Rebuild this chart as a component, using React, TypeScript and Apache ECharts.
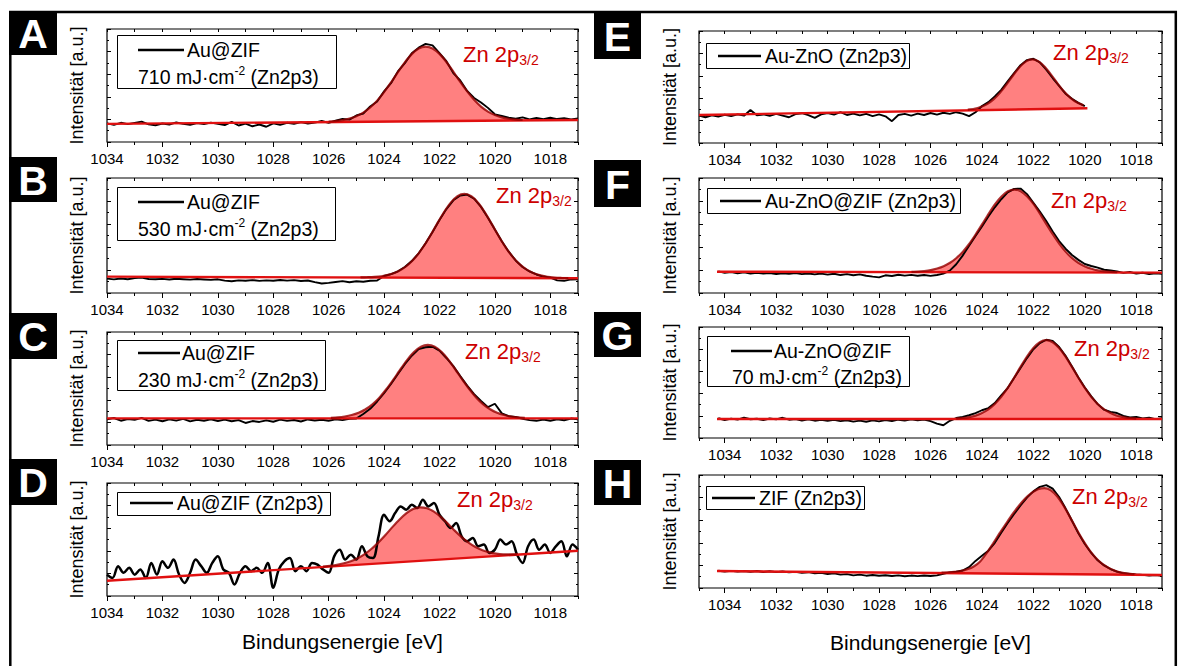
import React, { useEffect, useRef } from "react";
import * as echarts from "echarts";

const FONT = "'Liberation Sans', Arial, Helvetica, sans-serif";

// ---- axis ticks / labels ----
const MAJOR_TICKS = [1034, 1032, 1030, 1028, 1026, 1024, 1022, 1020, 1018];
const MINOR_TICKS_L = [1033, 1031, 1029, 1027, 1025, 1023, 1021, 1019, 1017];
const MINOR_TICKS_R = [1035, 1033, 1031, 1029, 1027, 1025, 1023, 1021, 1019, 1017];
const ALL_TICKS_L = [1034, 1033, 1032, 1031, 1030, 1029, 1028, 1027, 1026, 1025, 1024, 1023, 1022, 1021, 1020, 1019, 1018, 1017];
const ALL_TICKS_R = [1035, ...ALL_TICKS_L];

// ---- Panel A: Au@ZIF 710 mJ/cm2 ----
const A_START = 1034, A_STEP = 0.25;
const A_DATA = [16.5, 15.2, 17.0, 15.8, 16.9, 18.0, 15.6, 14.8, 16.4, 15.5,
  17.3, 16.0, 15.2, 16.8, 15.9, 17.1, 16.0, 15.0, 17.8, 14.6,
  16.2, 13.9, 15.5, 13.5, 16.5, 15.1, 17.0, 16.0, 17.6, 16.3,
  17.2, 18.6, 16.9, 18.8, 20.5, 19.8, 23.5, 25.2, 31.5, 35.8,
  44.8, 52.0, 62.5, 69.8, 78.5, 83.5, 86.8, 85.5, 78.6, 71.5,
  61.0, 54.5, 45.2, 39.0, 35.0, 30.2, 24.5, 23.0, 21.5, 20.6,
  21.8, 20.0, 21.2, 20.1, 21.5, 20.3, 21.0, 20.0, 20.8];
const A_FIT_START = 1026.0;
const A_FIT = [0.4, 0.8, 1.6, 2.9, 5.0, 8.1, 12.6, 18.6, 26.1, 34.6, 43.7, 52.3, 59.5, 64.4, 66, 64.4, 59.5, 52.3, 43.7, 34.6, 26.1, 18.6, 12.6, 8.1, 5.0, 2.9, 1.6, 0.8, 0.4];
const A_BASE = [[1034, 16], [1017, 19.5]];

// ---- Panel B: Au@ZIF 530 mJ/cm2 ----
const B_START = 1034, B_STEP = 0.25;
const B_DATA = [12.5, 11.8, 12.6, 12.0, 12.9, 13.4, 12.2, 11.9, 12.3, 11.7,
  12.4, 12.0, 11.6, 12.2, 11.8, 11.4, 11.9, 10.8, 10.2, 11.0,
  10.6, 11.2, 10.5, 11.0, 10.7, 11.3, 10.8, 11.2, 10.4, 10.9,
  9.5, 8.3, 8.8, 9.6, 10.3, 9.4, 10.2, 9.8, 10.6, 10.9,
  14.8, 16.4, 18.9, 22.6, 27.8, 34.5, 43.3, 53.0, 63.5, 73.0,
  80.6, 84.8, 85.6, 82.0, 74.9, 65.5, 55.2, 45.0, 35.9, 28.3,
  22.6, 18.7, 16.1, 14.3, 13.4, 11.0, 10.6, 11.8, 12.0];
const B_FIT_START = 1024.85;
const B_FIT = [0.1, 0.3, 0.6, 1.2, 2.4, 4.3, 7.4, 11.9, 18.2, 26.3, 35.9, 46.4, 56.6, 65.2, 71.0, 73.0, 71.0, 65.2, 56.6, 46.4, 35.9, 26.3, 18.2, 11.9, 7.4, 4.3, 2.4, 1.2, 0.6, 0.3, 0.1];
const B_BASE = [[1034, 14.2], [1017, 12.8]];

// ---- Panel C: Au@ZIF 230 mJ/cm2 ----
const C_START = 1034, C_STEP = 0.25;
const C_DATA = [22.8, 23.9, 21.5, 23.0, 22.2, 24.0, 21.3, 22.4, 21.0, 22.7,
  21.6, 23.1, 20.9, 22.3, 21.5, 22.8, 21.2, 22.5, 21.0, 22.0,
  19.5, 21.2, 20.4, 21.8, 20.6, 22.4, 21.3, 22.1, 20.8, 22.6,
  21.7, 22.3, 21.5, 22.7, 22.0, 23.2, 23.4, 27.5, 32.0, 38.5,
  45.8, 54.0, 62.8, 71.5, 79.0, 84.8, 86.5, 87.0, 83.5, 77.0,
  69.8, 61.0, 52.5, 45.0, 39.0, 33.5, 36.5, 28.0, 25.5, 24.8,
  23.2, 22.0, 21.4, 22.6, 21.5, 22.8, 21.9, 23.4, 22.7];
const C_FIT_START = 1025.92;
const C_FIT = [0.4, 0.8, 1.6, 2.9, 4.9, 8.0, 12.4, 18.3, 25.7, 34.1, 43.0, 51.5, 58.6, 63.4, 65, 63.4, 58.6, 51.5, 43.0, 34.1, 25.7, 18.3, 12.4, 8.0, 4.9, 2.9, 1.6, 0.8, 0.4];
const C_BASE = [[1034, 23.6], [1017, 23.6]];

// ---- Panel D: Au@ZIF ----
const D_START = 1034, D_STEP = 0.2;
const D_DATA = [18.9, 16.0, 26.4, 20.5, 24.9, 18.9, 23.4, 16.0, 29.2, 19.0,
  30.7, 24.9, 32.2, 19.0, 11.6, 20.5, 32.2, 26.4, 20.5, 29.3,
  35.1, 23.4, 20.5, 10.1, 20.5, 26.4, 22.0, 24.9, 20.5, 29.3,
  7.2, 23.4, 30.7, 33.6, 22.0, 26.4, 22.0, 29.3, 27.8, 23.4,
  20.5, 35.1, 41.0, 32.2, 36.6, 32.2, 44.0, 35.1, 33.6, 52.8,
  71.9, 66.1, 73.4, 79.3, 76.4, 80.8, 77.9, 85.2, 79.3, 82.3,
  71.9, 66.1, 60.2, 64.6, 52.8, 48.4, 51.3, 44.0, 45.5, 38.1,
  41.0, 49.9, 45.5, 48.4, 36.6, 29.3, 44.0, 49.9, 41.0, 45.5,
  38.1, 44.0, 48.4, 35.1, 45.5, 41.0];
const D_FIT_START = 1026.2;
const D_FIT = [0.3, 0.6, 1.1, 2.1, 3.6, 5.8, 9.1, 13.4, 18.7, 24.8, 31.4, 37.6, 42.8, 46.2, 47.4, 46.2, 42.8, 37.6, 31.4, 24.8, 18.7, 13.4, 9.1, 5.8, 3.6, 2.1, 1.1, 0.6, 0.3];
const D_BASE = [[1034, 13.5], [1017, 40]];

// ---- Panel E: Au-ZnO ----
const E_START = 1035, E_STEP = 0.25;
const E_DATA = [24.5, 23.0, 24.8, 23.6, 25.2, 24.0, 25.6, 24.4, 29.5, 24.8,
  25.5, 24.2, 26.0, 24.5, 23.0, 25.8, 26.6, 24.9, 22.5, 25.6,
  26.8, 25.3, 27.5, 25.0, 26.2, 24.6, 26.0, 24.0, 25.5, 23.8,
  19.5, 25.0, 26.0, 24.5, 26.2, 25.0, 26.8, 25.4, 27.0, 26.0,
  27.5, 26.2, 24.0, 27.5, 33.0, 36.5, 41.5, 47.5, 55.0, 62.5,
  69.5, 74.0, 75.2, 72.0, 65.5, 58.0, 51.0, 44.0, 39.5, 35.8,
  33.0];
const E_FIT_START = 1024.55;
const E_FIT = [0.6, 1.3, 2.8, 5.3, 9.4, 15.1, 22.3, 30.2, 37.4, 42.6, 44.5, 42.6, 37.4, 30.2, 22.3, 15.1, 9.4, 5.3, 2.8];
const E_BASE = [[1035, 25], [1019.9, 31]];

// ---- Panel F: Au-ZnO@ZIF ----
const F_START = 1034.25, F_STEP = 0.25;
const F_DATA = [18.8, 17.5, 18.3, 17.2, 17.9, 16.8, 17.6, 16.9, 17.4, 16.5,
  17.2, 16.6, 17.3, 16.4, 17.0, 16.2, 16.9, 16.0, 16.7, 15.6,
  16.4, 15.4, 16.2, 15.0, 14.2, 13.6, 15.4, 14.8, 15.9, 15.1,
  15.8, 15.0, 15.6, 14.9, 15.7, 16.8, 19.5, 25.0, 32.5, 41.0,
  49.5, 57.8, 66.5, 74.5, 81.5, 87.5, 90.5, 90.8, 86.0, 78.5,
  70.8, 62.5, 53.5, 45.2, 38.5, 33.0, 28.8, 25.2, 23.5, 22.0,
  20.2, 19.6, 18.7, 17.5, 18.3, 16.9, 17.6, 16.4, 17.2, 16.6];
const F_FIT_START = 1026.74;
const F_FIT = [0.3, 0.5, 1.0, 1.8, 3.2, 5.2, 8.2, 12.4, 17.9, 24.8, 33.0, 41.8, 50.9, 59.3, 66.0, 70.5, 72, 70.5, 66.0, 59.3, 50.9, 41.8, 33.0, 24.8, 17.9, 12.4, 8.2, 5.2, 3.2, 1.8, 1.0, 0.5, 0.3];
const F_BASE = [[1034.3, 18.5], [1017, 17.7]];

// ---- Panel G: Au-ZnO@ZIF 70 mJ/cm2 ----
const G_START = 1034.25, G_STEP = 0.25;
const G_DATA = [17.8, 16.2, 17.5, 16.6, 18.4, 16.9, 17.3, 16.1, 17.6, 16.8,
  18.2, 16.5, 17.0, 15.8, 16.9, 15.6, 16.4, 15.5, 16.3, 15.2,
  16.0, 14.8, 15.7, 14.6, 15.9, 15.0, 16.2, 15.3, 16.5, 15.7,
  16.8, 16.0, 16.6, 15.2, 13.0, 11.5, 15.5, 18.0, 19.0, 20.5,
  22.5, 25.0, 27.0, 31.5, 38.5, 45.0, 54.0, 63.0, 72.0, 80.0,
  85.5, 88.5, 87.5, 82.0, 74.0, 64.5, 54.5, 45.5, 37.5, 30.5,
  25.5, 23.5, 22.5, 20.0, 18.5, 19.0, 17.6, 18.2, 17.0, 17.9];
const G_FIT_START = 1025.0;
const G_FIT = [0.4, 0.9, 1.7, 3.1, 5.4, 8.7, 13.6, 20.0, 28.0, 37.2, 47.0, 56.3, 64.0, 69.2, 71, 69.2, 64.0, 56.3, 47.0, 37.2, 28.0, 20.0, 13.6, 8.7, 5.4, 3.1, 1.7, 0.9, 0.4];
const G_BASE = [[1034.3, 17.1], [1017, 17.1]];

// ---- Panel H: ZIF ----
const H_START = 1034.25, H_STEP = 0.25;
const H_DATA = [15.3, 14.6, 15.2, 14.5, 15.0, 14.4, 15.1, 14.2, 14.8, 14.0,
  14.6, 13.8, 14.3, 13.5, 14.0, 12.9, 13.4, 12.4, 12.9, 11.8,
  12.3, 11.2, 11.8, 10.9, 11.5, 10.8, 11.3, 10.6, 11.2, 10.4,
  11.0, 10.5, 11.1, 10.6, 11.2, 12.6, 13.8, 14.5, 15.5, 18.5,
  24.0, 28.5, 33.0, 40.0, 49.0, 57.5, 65.5, 73.0, 80.0, 85.5,
  89.5, 91.0, 88.0, 80.5, 70.5, 59.5, 48.5, 39.0, 31.0, 24.5,
  20.0, 16.8, 14.5, 13.0, 12.5, 12.0, 11.6, 11.0, 11.4, 10.8];
const H_FIT_START = 1025.57;
const H_FIT = [0.4, 0.7, 1.2, 2.0, 3.5, 6.0, 10.5, 18.0, 26.5, 35.5, 44.0, 52.4, 59.9, 66.5, 71.6, 74.9, 76.0, 74.1, 68.6, 60.3, 50.3, 39.8, 30.0, 21.4, 14.5, 9.3, 5.8, 3.3, 1.8, 1.0, 0.5];
const H_BASE = [[1034.3, 15], [1017, 11.5]];

// ---- texts ----
const PANEL_LETTERS = ["A", "B", "C", "D", "E", "F", "G", "H"];
const LEGEND_NAMES = ["Au@ZIF", "Au@ZIF", "Au@ZIF", "Au@ZIF (Zn2p3)", "Au-ZnO (Zn2p3)", "Au-ZnO@ZIF (Zn2p3)", "Au-ZnO@ZIF", "ZIF (Zn2p3)"];
const LEGEND_FLUENCE = ["710", "530", "230", "", "", "", "70", ""];
const X_TITLE = "Bindungsenergie [eV]";
const Y_TITLE = "Intensität [a.u.]";

// ---- layout (positions/sizes only) ----
const COLS = {
  L: { x: 107, w: 471, min: 1017, max: 1034, minor: MINOR_TICKS_L, all: ALL_TICKS_L, yTitleX: 77 },
  R: { x: 699, w: 463, min: 1017, max: 1035, minor: MINOR_TICKS_R, all: ALL_TICKS_R, yTitleX: 670 },
};

const PANELS = [
  { col: "L", top: 29, h: 113, start: A_START, step: A_STEP, data: A_DATA, fitStart: A_FIT_START, fit: A_FIT, base: A_BASE, lw: 1.9, smooth: false,
    box: [9, 11, 48, 44], legend: [117, 35, 219, 53], line: [138, 184, 50], t1: [187, 50], t2: [138, 77], zn: [463, 54] },
  { col: "L", top: 178, h: 115, start: B_START, step: B_STEP, data: B_DATA, fitStart: B_FIT_START, fit: B_FIT, base: B_BASE, lw: 1.9, smooth: false,
    box: [9, 157, 48, 45], legend: [117, 187, 218, 53], line: [138, 184, 202], t1: [187, 202], t2: [138, 229], zn: [496, 195] },
  { col: "L", top: 332, h: 113, start: C_START, step: C_STEP, data: C_DATA, fitStart: C_FIT_START, fit: C_FIT, base: C_BASE, lw: 1.9, smooth: false,
    box: [9, 313, 48, 46], legend: [117, 340, 208, 50], line: [138, 180, 353], t1: [182, 353], t2: [138, 380], zn: [465, 351] },
  { col: "L", top: 483, h: 113, start: D_START, step: D_STEP, data: D_DATA, fitStart: D_FIT_START, fit: D_FIT, base: D_BASE, lw: 2.5, smooth: 0.35,
    box: [9, 459, 48, 46], legend: [117, 492, 213, 23], line: [130, 173, 503], t1: [177, 503], t2: null, zn: [457, 499] },
  { col: "R", top: 31, h: 112, start: E_START, step: E_STEP, data: E_DATA, fitStart: E_FIT_START, fit: E_FIT, base: E_BASE, lw: 1.9, smooth: false,
    box: [594, 12, 47, 47], legend: [706, 43, 203, 25], line: [718, 761, 56], t1: [765, 56], t2: null, zn: [1053, 52] },
  { col: "R", top: 178, h: 115, start: F_START, step: F_STEP, data: F_DATA, fitStart: F_FIT_START, fit: F_FIT, base: F_BASE, lw: 1.9, smooth: false,
    box: [594, 160, 47, 47], legend: [707, 188, 253, 25], line: [720, 761, 201], t1: [765, 201], t2: null, zn: [1051, 200] },
  { col: "R", top: 327, h: 111, start: G_START, step: G_STEP, data: G_DATA, fitStart: G_FIT_START, fit: G_FIT, base: G_BASE, lw: 1.9, smooth: false,
    box: [594, 312, 47, 45], legend: [707, 336, 202, 50], line: [731, 772, 351], t1: [774, 351], t2: [732, 377], zn: [1074, 348] },
  { col: "R", top: 475, h: 113, start: H_START, step: H_STEP, data: H_DATA, fitStart: H_FIT_START, fit: H_FIT, base: H_BASE, lw: 1.9, smooth: false,
    box: [594, 460, 47, 45], legend: [706, 486, 158, 23], line: [712, 755, 498], t1: [759, 498], t2: null, zn: [1072, 496] },
];

const FILL = "#ff8080";
const BASE_RED = "#e01010";
const ENV_RED = "rgba(150,0,0,0.8)";
const LABEL_RED = "#cc0000";

function buildOption() {
  const grid: any[] = [];
  const xAxis: any[] = [];
  const yAxis: any[] = [];
  const series: any[] = [];
  const graphic: any[] = [];

  graphic.push({
    type: "rect", z: 100, silent: true,
    shape: { x: 10.3, y: 12, width: 1165.5, height: 700 },
    style: { fill: "none", stroke: "#000", lineWidth: 2.5 },
  });

  PANELS.forEach((p: any, k: number) => {
    const col = (COLS as any)[p.col];
    grid.push({ left: col.x, top: p.top, width: col.w, height: p.h, show: true, borderColor: "#000", borderWidth: 1.2, backgroundColor: "transparent" });
    const xb = { type: "value", gridIndex: k, min: col.min, max: col.max, inverse: true, axisLine: { show: false }, splitLine: { show: false } };
    xAxis.push({ ...xb, position: "bottom",
      axisTick: { show: true, inside: false, length: 5, customValues: MAJOR_TICKS, lineStyle: { color: "#000", width: 1 } },
      axisLabel: { show: true, customValues: MAJOR_TICKS, fontSize: 15, color: "#000", fontFamily: FONT, margin: 9, formatter: (v: number) => String(v) } });
    xAxis.push({ ...xb, position: "bottom",
      axisTick: { show: true, inside: false, length: 3, customValues: col.minor, lineStyle: { color: "#000", width: 1 } },
      axisLabel: { show: false } });
    xAxis.push({ ...xb, position: "top",
      axisTick: { show: true, inside: true, length: 3, customValues: col.all, lineStyle: { color: "#000", width: 1 } },
      axisLabel: { show: false } });
    const yb = { type: "value", gridIndex: k, min: 0, max: 100, interval: 20, axisLine: { show: false }, splitLine: { show: false },
      axisLabel: { show: false }, axisTick: { show: true, inside: true, length: 4, lineStyle: { color: "#000", width: 1 } },
      minorTick: { show: true, splitNumber: 2, length: 2, lineStyle: { color: "#000", width: 1 } } };
    yAxis.push({ ...yb, position: "left" });
    yAxis.push({ ...yb, position: "right" });

    const xi = k * 3, yi = k * 2;
    const [[bx0, by0], [bx1, by1]] = p.base;
    const baseAt = (x: number) => by0 + (by1 - by0) * (x - bx0) / (bx1 - bx0);
    const fitPts = p.fit.map((v: number, i: number) => {
      const x = +(p.fitStart - 0.25 * i).toFixed(3);
      return [x, baseAt(x), baseAt(x) + v];
    });
    const common = { xAxisIndex: xi, yAxisIndex: yi, silent: true, animation: false };

    // filled peak area between baseline and fit envelope
    series.push({
      ...common, type: "custom", name: "area" + k, coordinateSystem: "cartesian2d", z: 1, clip: true,
      data: fitPts, encode: { x: 0, y: [1, 2] },
      renderItem: (params: any, api: any) => {
        if (params.dataIndex !== 0) return null;
        const top = fitPts.map((q: number[]) => api.coord([q[0], q[2]]));
        const bot = fitPts.slice().reverse().map((q: number[]) => api.coord([q[0], q[1]]));
        return { type: "polygon", shape: { points: top.concat(bot) }, style: { fill: FILL, stroke: "none" } };
      },
    });
    series.push({ ...common, type: "line", symbol: "none", name: "d" + k, z: 2, smooth: p.smooth,
      data: p.data.map((v: number, i: number) => [+(p.start - p.step * i).toFixed(3), v]), lineStyle: { color: "#000", width: p.lw } });
    series.push({ ...common, type: "line", symbol: "none", name: "bl" + k, z: 3, data: p.base, lineStyle: { color: BASE_RED, width: 2.4 } });
    series.push({ ...common, type: "line", symbol: "none", name: "e" + k, z: 4, smooth: 0.2,
      data: fitPts.map((q: number[]) => [q[0], q[2]]), lineStyle: { color: ENV_RED, width: 2.2 } });

    // panel letter box
    const [bx, by, bw, bh] = p.box;
    graphic.push({ type: "rect", z: 101, silent: true, shape: { x: bx, y: by, width: bw, height: bh }, style: { fill: "#000" } });
    graphic.push({ type: "text", z: 102, silent: true, x: bx + bw / 2, y: by + bh / 2 + 1,
      style: { text: PANEL_LETTERS[k], fill: "#fff", fontSize: 41, fontWeight: "bold", fontFamily: FONT, align: "center", verticalAlign: "middle" } });

    // legend
    const [lx, ly, lw, lh] = p.legend;
    graphic.push({ type: "rect", z: 101, silent: true, shape: { x: lx + 0.5, y: ly + 0.5, width: lw, height: lh }, style: { fill: "#fff", stroke: "#000", lineWidth: 1 } });
    graphic.push({ type: "line", z: 102, silent: true, shape: { x1: p.line[0], y1: p.line[2], x2: p.line[1], y2: p.line[2] }, style: { stroke: "#000", lineWidth: 2.5 } });
    graphic.push({ type: "text", z: 102, silent: true, x: p.t1[0], y: p.t1[1],
      style: { text: LEGEND_NAMES[k], fill: "#000", fontSize: 19.5, fontFamily: FONT, align: "left", verticalAlign: "middle" } });
    if (p.t2) {
      graphic.push({ type: "text", z: 102, silent: true, x: p.t2[0], y: p.t2[1],
        style: { text: LEGEND_FLUENCE[k] + " mJ\u00b7cm{s|-2} (Zn2p3)", fill: "#000", fontSize: 19.5, fontFamily: FONT, align: "left", verticalAlign: "middle", lineHeight: 24,
          rich: { s: { fontSize: 12, fontFamily: FONT, fill: "#000", verticalAlign: "top", lineHeight: 14 } } } });
    }
    // Zn 2p3/2 label
    graphic.push({ type: "text", z: 102, silent: true, x: p.zn[0], y: p.zn[1],
      style: { text: "Zn 2p{s|3/2}", fill: LABEL_RED, fontSize: 22, fontFamily: FONT, align: "left", verticalAlign: "middle", lineHeight: 26,
        rich: { s: { fontSize: 14, fontFamily: FONT, fill: LABEL_RED, verticalAlign: "bottom", lineHeight: 12 } } } });
    // y title
    graphic.push({ type: "text", z: 102, silent: true, x: col.yTitleX, y: p.top + p.h / 2, rotation: Math.PI / 2,
      style: { text: Y_TITLE, fill: "#000", fontSize: 18, fontFamily: FONT, align: "center", verticalAlign: "middle" } });
  });

  graphic.push({ type: "text", z: 102, silent: true, x: 342.5, y: 641,
    style: { text: X_TITLE, fill: "#000", fontSize: 21, fontFamily: FONT, align: "center", verticalAlign: "middle" } });
  graphic.push({ type: "text", z: 102, silent: true, x: 930.5, y: 642,
    style: { text: X_TITLE, fill: "#000", fontSize: 21, fontFamily: FONT, align: "center", verticalAlign: "middle" } });

  return {
    animation: false,
    backgroundColor: "#fff",
    textStyle: { fontFamily: FONT },
    grid, xAxis, yAxis, series, graphic,
  };
}

export default function App() {
  const ref = useRef<HTMLDivElement>(null);
  useEffect(() => {
    if (!ref.current) return;
    const chart = echarts.init(ref.current, null, { renderer: "svg" });
    chart.setOption(buildOption() as any);
    return () => chart.dispose();
  }, []);
  return <div ref={ref} style={{ position: "fixed", left: 0, top: 0, width: 1179, height: 666, background: "#fff" }} />;
}
